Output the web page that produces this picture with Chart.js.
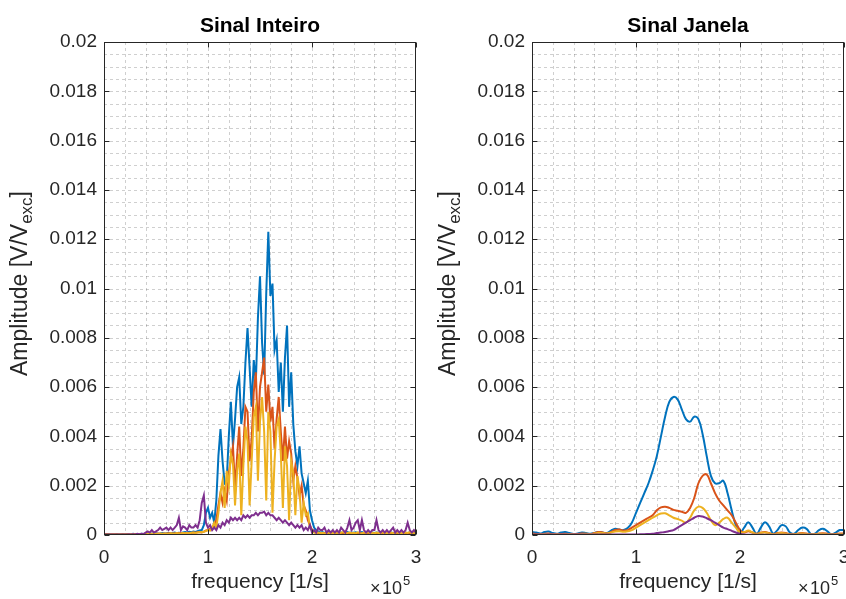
<!DOCTYPE html>
<html>
<head>
<meta charset="utf-8">
<script src="https://cdn.jsdelivr.net/npm/chart.js@4/dist/chart.umd.min.js"></script>
<style>
  html, body { margin: 0; padding: 0; background: #ffffff; }
  #wrap { position: relative; width: 846px; height: 599px; overflow: hidden; background: #ffffff; }
  #wrap canvas { position: absolute; top: 0; }
</style>
</head>
<body>
<div id="wrap">
  <canvas id="cInteiro" width="423" height="599" style="left:0px"></canvas>
  <canvas id="cJanela" width="423" height="599" style="left:423px"></canvas>
</div>
<script>
// ---------- frequency axes [1/s] ----------
const freqInteiro = [
  0, 2000, 4000, 6000, 8000, 10000, 12000, 14000, 16000, 18000,
  20000, 22000, 24000, 26000, 28000, 30000, 32000, 34000, 36000, 38000,
  40000, 42000, 44000, 46000, 48000, 50000, 52000, 54000, 56000, 58000,
  60000, 62000, 64000, 66000, 68000, 70000, 72000, 74000, 76000, 78000,
  80000, 82000, 84000, 86000, 88000, 90000, 92000, 94000, 96000, 98000,
  100000, 102000, 104000, 106000, 108000, 110000, 112000, 114000, 116000, 118000,
  120000, 122000, 124000, 126000, 128000, 130000, 132000, 134000, 136000, 138000,
  140000, 142000, 144000, 146000, 148000, 150000, 152000, 154000, 156000, 158000,
  160000, 162000, 164000, 166000, 168000, 170000, 172000, 174000, 176000, 178000,
  180000, 182000, 184000, 186000, 188000, 190000, 192000, 194000, 196000, 198000,
  200000, 202000, 204000, 206000, 208000, 210000, 212000, 214000, 216000, 218000,
  220000, 222000, 224000, 226000, 228000, 230000, 232000, 234000, 236000, 238000,
  240000, 242000, 244000, 246000, 248000, 250000, 252000, 254000, 256000, 258000,
  260000, 262000, 264000, 266000, 268000, 270000, 272000, 274000, 276000, 278000,
  280000, 282000, 284000, 286000, 288000, 290000, 292000, 294000, 296000, 298000,
  300000
];

const freqJanela = [
  0, 4000, 8000, 12000, 16000, 20000, 24000, 28000, 32000, 36000,
  40000, 44000, 48000, 52000, 56000, 60000, 64000, 68000, 72000, 76000,
  80000, 84000, 88000, 92000, 96000, 100000, 104000, 108000, 112000, 116000,
  120000, 124000, 128000, 132000, 136000, 140000, 144000, 148000, 152000, 156000,
  160000, 164000, 168000, 172000, 176000, 180000, 184000, 188000, 192000, 196000,
  200000, 204000, 208000, 212000, 216000, 220000, 224000, 228000, 232000, 236000,
  240000, 244000, 248000, 252000, 256000, 260000, 264000, 268000, 272000, 276000,
  280000, 284000, 288000, 292000, 296000, 300000
];

// ---------- amplitude spectra, whole signal [V/Vexc] ----------
const inteiroS1 = [
  0.00003, 0.00002, 0.00004, 0.00003, 0.00002, 0.00003, 0.00004, 0.00002, 0.00003, 0.00004,
  0.00003, 0.00004, 0.00002, 0.00003, 0.00005, 0.00003, 0.00004, 0.00003, 0.00005, 0.00004,
  0.00005, 0.00006, 0.00004, 0.00006, 0.00005, 0.00007, 0.00005, 0.00006, 0.00008, 0.00006,
  0.00007, 0.00009, 0.00006, 0.00008, 0.00010, 0.00007, 0.00009, 0.00008, 0.00010, 0.00012,
  0.00010, 0.00013, 0.00011, 0.00014, 0.00012, 0.00015, 0.00018, 0.00020, 0.00040, 0.00090,
  0.0011, 0.0007, 0.0009, 0.0005, 0.0014, 0.0032, 0.0043, 0.0030, 0.0021, 0.0022,
  0.0040, 0.0054, 0.0036, 0.0047, 0.0060, 0.0064, 0.0045, 0.0052, 0.0070, 0.0084,
  0.0068, 0.0052, 0.0071, 0.0062, 0.0088, 0.0105, 0.0078, 0.0065, 0.0098, 0.0123,
  0.0097, 0.0102, 0.0075, 0.0079, 0.0058, 0.0070, 0.0050, 0.0072, 0.0085, 0.0052,
  0.0066, 0.0045, 0.0034, 0.0028, 0.0036, 0.0025, 0.0021, 0.0017, 0.0022, 0.0010,
  0.0006, 0.0003, 0.0002, 0.00015, 0.0001, 0.00012, 0.00008, 0.0001, 0.00012, 0.00008,
  0.0001, 0.00008, 0.00012, 0.00009, 0.0001, 0.00007, 0.0001, 0.00012, 0.00008, 0.0001,
  0.00009, 0.00011, 0.00008, 0.0001, 0.00012, 0.00008, 0.00009, 0.0001, 0.00007, 0.0001,
  0.00008, 0.0001, 0.00009, 0.00007, 0.0001, 0.00008, 0.00009, 0.00007, 0.0001, 0.00008,
  0.00009, 0.00007, 0.0001, 0.00008, 0.00007, 0.00009, 0.00008, 0.0001, 0.00007, 0.00008,
  0.00007
];

const inteiroS2 = [
  0.00002, 0.00003, 0.00002, 0.00002, 0.00003, 0.00002, 0.00003, 0.00002, 0.00002, 0.00003,
  0.00002, 0.00003, 0.00003, 0.00002, 0.00003, 0.00004, 0.00003, 0.00003, 0.00004, 0.00003,
  0.00004, 0.00003, 0.00005, 0.00004, 0.00005, 0.00004, 0.00006, 0.00005, 0.00004, 0.00006,
  0.00005, 0.00007, 0.00006, 0.00005, 0.00007, 0.00006, 0.00008, 0.00007, 0.00006, 0.00008,
  0.00007, 0.00009, 0.00008, 0.0001, 0.00009, 0.00011, 0.00012, 0.0001, 0.00014, 0.00018,
  0.0002, 0.00025, 0.0003, 0.0004, 0.0006, 0.0012, 0.0017, 0.0013, 0.0018, 0.0014,
  0.0025, 0.0031, 0.0036, 0.0019, 0.0032, 0.0044, 0.0024, 0.0035, 0.0052, 0.0050,
  0.0030, 0.0039, 0.0058, 0.0066, 0.0042, 0.0060, 0.0066, 0.0072, 0.0050, 0.0061,
  0.0046, 0.0052, 0.0035, 0.0047, 0.0056, 0.0042, 0.0030, 0.0044, 0.0031, 0.0038,
  0.0033, 0.0022, 0.0028, 0.0023, 0.0016, 0.0020, 0.0012, 0.0010, 0.0006, 0.0004,
  0.0002, 0.00012, 0.0001, 0.00008, 0.00009, 0.00007, 0.00008, 0.00006, 0.00007, 0.00006,
  0.00007, 0.00006, 0.00008, 0.00005, 0.00007, 0.00006, 0.00008, 0.00006, 0.00005, 0.00007,
  0.00006, 0.00008, 0.00005, 0.00007, 0.00006, 0.00005, 0.00007, 0.00006, 0.00008, 0.00005,
  0.00007, 0.00005, 0.00006, 0.00008, 0.00005, 0.00007, 0.00006, 0.00005, 0.00007, 0.00006,
  0.00005, 0.00007, 0.00006, 0.00005, 0.00008, 0.00006, 0.00005, 0.00007, 0.00006, 0.00005,
  0.00006
];

const inteiroS3 = [
  0.00002, 0.00002, 0.00003, 0.00002, 0.00002, 0.00003, 0.00002, 0.00002, 0.00003, 0.00002,
  0.00003, 0.00002, 0.00003, 0.00003, 0.00002, 0.00003, 0.00004, 0.00003, 0.00003, 0.00004,
  0.00003, 0.00004, 0.00004, 0.00005, 0.00004, 0.00005, 0.00004, 0.00006, 0.00005, 0.00005,
  0.00006, 0.00005, 0.00007, 0.00006, 0.00005, 0.00008, 0.00006, 0.00007, 0.00008, 0.00007,
  0.00008, 0.00007, 0.00009, 0.0001, 0.00008, 0.0001, 0.00012, 0.00011, 0.00013, 0.00016,
  0.0002, 0.00018, 0.0003, 0.0005, 0.0003, 0.0009, 0.0017, 0.0022, 0.0011, 0.0026,
  0.0020, 0.0033, 0.0029, 0.0012, 0.0026, 0.0033, 0.0008, 0.0028, 0.0044, 0.0038,
  0.0012, 0.0030, 0.0048, 0.0052, 0.0022, 0.0046, 0.0056, 0.0042, 0.0014, 0.0050,
  0.0042, 0.0009, 0.0030, 0.0044, 0.0047, 0.0033, 0.0011, 0.0036, 0.0028, 0.0006,
  0.0030, 0.0025, 0.0008, 0.0024, 0.0018, 0.0005, 0.0013, 0.0008, 0.0009, 0.0003,
  0.00018, 0.0001, 0.00008, 0.0001, 0.00007, 0.00009, 0.00006, 0.00008, 0.0001, 0.00007,
  0.00008, 0.00006, 0.0001, 0.00007, 0.00009, 0.00012, 0.00006, 0.00008, 0.0001, 0.00007,
  0.00009, 0.00006, 0.00011, 0.00008, 0.00006, 0.0001, 0.00008, 0.00012, 0.00007, 0.00009,
  0.00006, 0.0001, 0.00008, 0.00007, 0.00011, 0.00006, 0.00009, 0.00008, 0.0001, 0.00007,
  0.00008, 0.00011, 0.00006, 0.00009, 0.00007, 0.0001, 0.00008, 0.00012, 0.00006, 0.00009,
  0.00007
];

const inteiroS4 = [
  0.00002, 0.00002, 0.00002, 0.00002, 0.00002, 0.00002, 0.00002, 0.00002, 0.00002, 0.00002,
  0.00002, 0.00002, 0.00003, 0.00002, 0.00003, 0.00002, 0.00005, 0.00003, 0.00005, 0.00004,
  0.0001, 0.00015, 0.0001, 0.0002, 0.0001, 0.00015, 0.0002, 0.0003, 0.0002, 0.00025,
  0.0003, 0.0002, 0.0003, 0.0002, 0.0003, 0.0004, 0.0007, 0.0002, 0.00035, 0.0003,
  0.0002, 0.0004, 0.0003, 0.0003, 0.0004, 0.0003, 0.0006, 0.0013, 0.0016, 0.0005,
  0.0003, 0.0004, 0.0002, 0.0003, 0.0002, 0.0004, 0.0003, 0.0005, 0.0004, 0.0006,
  0.0005, 0.0007, 0.0006, 0.0007, 0.0006, 0.0007, 0.0006, 0.0008, 0.0007, 0.0008,
  0.0007, 0.0008, 0.0008, 0.0009, 0.0008, 0.0009, 0.0009, 0.00095, 0.0008, 0.0009,
  0.0008, 0.0008, 0.0007, 0.0006, 0.0007, 0.0006, 0.0005, 0.0006, 0.0005, 0.0004,
  0.0005, 0.0004, 0.0003, 0.0004, 0.0003, 0.0004, 0.0002, 0.0003, 0.0002, 0.0004,
  0.0001, 0.0002, 0.0001, 0.0003, 0.0002, 0.0002, 0.0003, 0.0001, 0.0002, 0.0001,
  0.0002, 0.0001, 0.0002, 0.0001, 0.0003, 0.0002, 0.0001, 0.0003, 0.0006, 0.0002,
  0.0003, 0.0005, 0.0006, 0.0002, 0.0006, 0.0002, 0.0001, 0.0002, 0.0001, 0.0002,
  0.0002, 0.0006, 0.0002, 0.0001, 0.0002, 0.0001, 0.0002, 0.0001, 0.0002, 0.0003,
  0.0001, 0.0002, 0.0001, 0.0002, 0.0001, 0.0002, 0.0005, 0.0002, 0.0001, 0.0002,
  0.0001
];

// ---------- amplitude spectra, windowed signal [V/Vexc] ----------
const janelaS1 = [
  0.00012, 0.00010, 0.00006, 0.00012, 0.00014, 0.00008, 0.00005, 0.00010, 0.00012, 0.00008,
  0.00004, 0.00006, 0.00010, 0.00008, 0.00005, 0.00008, 0.00012, 0.00010, 0.00008, 0.00018,
  0.00025, 0.00022, 0.00020, 0.00028, 0.0005, 0.0009, 0.0013, 0.0017, 0.0021, 0.0026,
  0.0032, 0.0040, 0.0048, 0.0054, 0.0056, 0.0055, 0.0051, 0.0047, 0.0046, 0.0048,
  0.0047, 0.0041, 0.0032, 0.0024, 0.0021, 0.0021, 0.0022, 0.0017, 0.0010, 0.0004,
  0.0001, 0.0003, 0.00052, 0.0003, 0.00005, 0.0003, 0.00052, 0.00035, 0.00005, 0.0002,
  0.0004, 0.00035, 0.0001, 0.00005, 0.0002, 0.0003, 0.00025, 0.00005, 0.00005, 0.0002,
  0.00025, 0.00015, 0.00003, 0.0001, 0.0002, 0.0002
];

const janelaS2 = [
  0.00006, 0.00004, 0.00002, 0.00005, 0.00006, 0.00003, 0.00002, 0.00004, 0.00005, 0.00003,
  0.00002, 0.00004, 0.00006, 0.00005, 0.00003, 0.00008, 0.00012, 0.0001, 0.00006, 0.00012,
  0.0002, 0.00022, 0.00018, 0.0002, 0.0003, 0.0004, 0.0005, 0.0006, 0.0007, 0.0008,
  0.0010, 0.00112, 0.00115, 0.0011, 0.00102, 0.00098, 0.00094, 0.0009, 0.0011, 0.0015,
  0.0021, 0.0024, 0.00245, 0.0021, 0.0017, 0.0014, 0.0012, 0.0010, 0.0008, 0.0005,
  0.0002, 0.0001, 0.00015, 0.0001, 0.00005, 0.0001, 0.00012, 0.00008, 0.00003, 0.00008,
  0.0001, 0.00008, 0.00003, 0.00003, 0.00006, 0.00008, 0.00006, 0.00002, 0.00003, 0.00006,
  0.00007, 0.00005, 0.00002, 0.00004, 0.00006, 0.00006
];

const janelaS3 = [
  0.00003, 0.00002, 0.00003, 0.00004, 0.00002, 0.00003, 0.00004, 0.00002, 0.00003, 0.00004,
  0.00003, 0.00002, 0.00004, 0.00005, 0.00004, 0.00006, 0.00009, 0.00008, 0.00006, 0.0001,
  0.00014, 0.00015, 0.00013, 0.00015, 0.0002, 0.0003, 0.0004, 0.0005, 0.0006, 0.0007,
  0.0008, 0.00087, 0.00088, 0.0008, 0.0007, 0.00065, 0.00058, 0.0005, 0.0007, 0.0010,
  0.00115, 0.0011, 0.0009, 0.0006, 0.0004, 0.0005, 0.00065, 0.0007, 0.0005, 0.0003,
  0.0001, 0.00012, 0.00018, 0.0001, 0.00004, 0.00008, 0.0001, 0.00006, 0.00003, 0.00006,
  0.00008, 0.00006, 0.00002, 0.00003, 0.00005, 0.00006, 0.00004, 0.00002, 0.00003, 0.00005,
  0.00005, 0.00003, 0.00002, 0.00003, 0.00004, 0.00005
];

const janelaS4 = [
  0.00002, 0.00002, 0.00002, 0.00002, 0.00002, 0.00002, 0.00002, 0.00002, 0.00002, 0.00002,
  0.00002, 0.00002, 0.00002, 0.00002, 0.00002, 0.00002, 0.00002, 0.00002, 0.00002, 0.00002,
  0.00002, 0.00002, 0.00002, 0.00002, 0.00002, 0.00002, 0.00003, 0.00003, 0.00004, 0.00005,
  0.00008, 0.0001, 0.00012, 0.00016, 0.0002, 0.0003, 0.0004, 0.0005, 0.0006, 0.0007,
  0.00077, 0.00075, 0.00068, 0.0006, 0.0005, 0.0004, 0.0003, 0.00024, 0.00017, 0.0001,
  0.00005, 0.00002, 0.00001, 0.00001, 0.00001, 0.00001, 0.00001, 0.00001, 0.00001, 0.00001,
  0.00001, 0.00001, 0.00001, 0.00001, 0.00001, 0.00001, 0.00001, 0.00001, 0.00001, 0.00001,
  0.00001, 0.00001, 0.00001, 0.00001, 0.00001, 0.00001
];

// ---------- axis settings ----------
const xTickStep = 20000;       // grid spacing on the frequency axis
const xLabelStep = 100000;     // labelled ticks (shown in units of 10^5)
const yTickStep = 0.0005;      // grid spacing on the amplitude axis
const yLabelStep = 0.002;      // labelled ticks
const lineColors = ['#0072BD', '#D95319', '#EDB120', '#7E2F8E'];

const FONT = "'Liberation Sans', Arial, Helvetica, sans-serif";
const AXIS_COLOR = '#262626';
Chart.defaults.font.family = FONT;

const isMajorX = v => Math.abs(v / xLabelStep - Math.round(v / xLabelStep)) < 1e-9;
const isMajorY = v => Math.abs(v / yLabelStep - Math.round(v / yLabelStep)) < 1e-6;

// Draws the MATLAB-style box, dotted grid, inner tick marks, title and axis labels
const axesDecor = {
  id: 'axesDecor',
  beforeDatasetsDraw(chart) {
    const { ctx, chartArea: a, scales: { x, y } } = chart;
    ctx.save();
    ctx.strokeStyle = 'rgba(38,38,38,0.22)';
    ctx.lineWidth = 1;
    ctx.setLineDash([3, 3]);
    x.ticks.forEach(t => {
      const px = Math.round(x.getPixelForValue(t.value)) + 0.5;
      if (px <= a.left + 1 || px >= a.right - 1) return;
      ctx.beginPath(); ctx.moveTo(px, a.top); ctx.lineTo(px, a.bottom); ctx.stroke();
    });
    y.ticks.forEach(t => {
      const py = Math.round(y.getPixelForValue(t.value)) + 0.5;
      if (py <= a.top + 1 || py >= a.bottom - 1) return;
      ctx.beginPath(); ctx.moveTo(a.left, py); ctx.lineTo(a.right, py); ctx.stroke();
    });
    ctx.restore();
  },
  afterDatasetsDraw(chart, args, opts) {
    const { ctx, chartArea: a, scales: { x, y } } = chart;
    const L = Math.round(a.left) + 0.5, R = Math.round(a.right) - 0.5;
    const T = Math.round(a.top) + 0.5, B = Math.round(a.bottom) - 0.5;
    ctx.save();
    ctx.strokeStyle = AXIS_COLOR;
    ctx.lineWidth = 1;
    ctx.setLineDash([]);
    ctx.strokeRect(L, T, R - L, B - T);
    const tl = 5;
    ctx.beginPath();
    x.ticks.forEach(t => {
      if (!isMajorX(t.value)) return;
      const px = Math.round(x.getPixelForValue(t.value)) + 0.5;
      ctx.moveTo(px, B); ctx.lineTo(px, B - tl);
      ctx.moveTo(px, T); ctx.lineTo(px, T + tl);
    });
    y.ticks.forEach(t => {
      if (!isMajorY(t.value)) return;
      const py = Math.round(y.getPixelForValue(t.value)) + 0.5;
      ctx.moveTo(L, py); ctx.lineTo(L + tl, py);
      ctx.moveTo(R, py); ctx.lineTo(R - tl, py);
    });
    ctx.stroke();

    const cx = (a.left + a.right) / 2;
    // title
    ctx.fillStyle = '#000000';
    ctx.font = 'bold 21px ' + FONT;
    ctx.textAlign = 'center';
    ctx.textBaseline = 'alphabetic';
    ctx.fillText(opts.title, cx, 32);

    // x label
    ctx.fillStyle = AXIS_COLOR;
    ctx.font = '21px ' + FONT;
    ctx.fillText('frequency [1/s]', cx, 588);

    // exponent  x10^5
    ctx.textAlign = 'left';
    const ex = a.right - 46;
    ctx.font = '18px ' + FONT;
    ctx.fillText('\u00D7', ex, 594);
    ctx.fillText('10', ex + 12, 594);
    const w10 = ctx.measureText('10').width;
    ctx.font = '13px ' + FONT;
    ctx.fillText('5', ex + 13 + w10, 585);

    // y label with subscript, rotated
    const cy = (a.top + a.bottom) / 2 - 5;
    const bx = a.left - 77;
    const p1 = 'Amplitude [V/V', p2 = 'exc', p3 = ']';
    ctx.font = '23px ' + FONT;
    const w1 = ctx.measureText(p1).width, w3 = ctx.measureText(p3).width;
    ctx.font = '17px ' + FONT;
    const w2 = ctx.measureText(p2).width;
    const total = w1 + w2 + w3;
    ctx.translate(bx, cy);
    ctx.rotate(-Math.PI / 2);
    let sx = -total / 2;
    ctx.font = '23px ' + FONT;
    ctx.fillText(p1, sx, 0); sx += w1;
    ctx.font = '17px ' + FONT;
    ctx.fillText(p2, sx, 5); sx += w2;
    ctx.font = '23px ' + FONT;
    ctx.fillText(p3, sx, 0);
    ctx.restore();
  }
};

function buildChart(canvasId, title, freq, series, plotLeft, padRight, tension) {
  return new Chart(document.getElementById(canvasId), {
    type: 'line',
    data: {
      datasets: series.map((vals, i) => ({
        data: freq.map((f, k) => ({ x: f, y: vals[k] })),
        borderColor: lineColors[i],
        backgroundColor: lineColors[i],
        borderWidth: 2,
        pointRadius: 0,
        fill: false,
        tension: tension,
        order: series.length - i
      }))
    },
    options: {
      responsive: false,
      animation: false,
      devicePixelRatio: 1,
      layout: { padding: { left: 0, right: padRight, top: 42, bottom: 0 } },
      plugins: {
        legend: { display: false },
        tooltip: { enabled: false },
        title: { display: false },
        axesDecor: { title: title }
      },
      scales: {
        x: {
          type: 'linear',
          min: 0,
          max: 300000,
          grid: { display: false, drawTicks: false },
          border: { display: false },
          ticks: {
            stepSize: xTickStep,
            autoSkip: false,
            maxRotation: 0,
            padding: 11,
            color: AXIS_COLOR,
            font: { size: 19 },
            callback: v => isMajorX(v) ? String(Math.round(v / xLabelStep)) : ''
          },
          afterFit(s) { s.height = 64; s.paddingLeft = 0; s.paddingRight = 0; }
        },
        y: {
          type: 'linear',
          min: 0,
          max: 0.02,
          grid: { display: false, drawTicks: false },
          border: { display: false },
          ticks: {
            stepSize: yTickStep,
            autoSkip: false,
            padding: 7,
            color: AXIS_COLOR,
            font: { size: 19 },
            callback: v => isMajorY(v) ? String(parseFloat(v.toFixed(4))) : ''
          },
          afterFit(s) { s.width = plotLeft; s.paddingTop = 0; s.paddingBottom = 0; }
        }
      }
    },
    plugins: [axesDecor]
  });
}

buildChart('cInteiro', 'Sinal Inteiro', freqInteiro,
  [inteiroS1, inteiroS2, inteiroS3, inteiroS4], 104, 7, 0);
buildChart('cJanela', 'Sinal Janela', freqJanela,
  [janelaS1, janelaS2, janelaS3, janelaS4], 109, 2, 0.4);
</script>
</body>
</html>
